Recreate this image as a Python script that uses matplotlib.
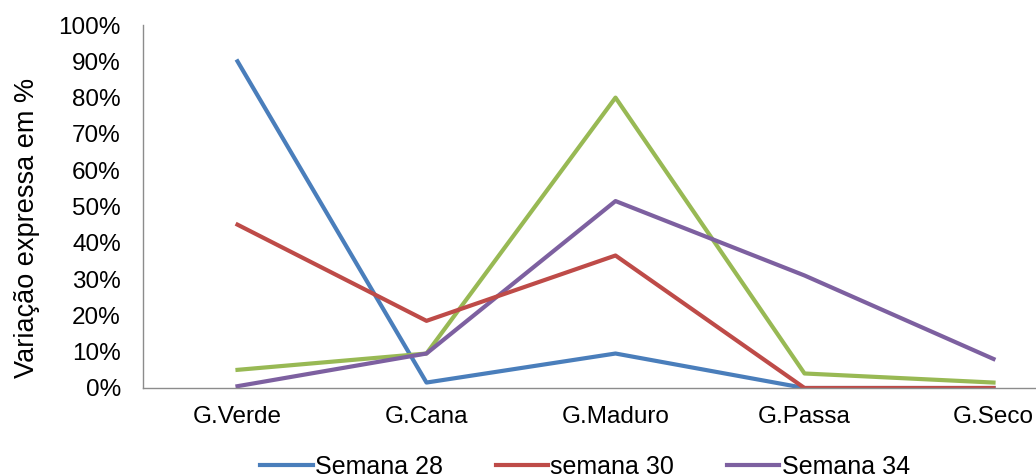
import matplotlib
matplotlib.use("Agg")
import matplotlib.pyplot as plt
from matplotlib.ticker import PercentFormatter

plt.rcParams['font.family'] = ['Liberation Sans', 'DejaVu Sans']

categorias = ['G.Verde', 'G.Cana', 'G.Maduro', 'G.Passa', 'G.Seco']
semana_28 = [90, 1.5, 9.5, 0, 0]
semana_30 = [45, 18.5, 36.5, 0, 0]
semana_32 = [5, 9.5, 80, 4, 1.5]
semana_34 = [0.5, 9.5, 51.5, 31, 8]

fig = plt.figure(figsize=(10.36, 4.75), dpi=100)
# plot area runs past the right edge of the figure
ax = fig.add_axes([143 / 1036, 1 - 388 / 475, 945 / 1036, 363 / 475])

x = range(len(categorias))
l28, = ax.plot(x, semana_28, color='#4A7EBB', lw=3, label='Semana 28')
l32, = ax.plot(x, semana_32, color='#98B954', lw=3, label='Semana 32')
l34, = ax.plot(x, semana_34, color='#7D60A0', lw=3, label='Semana 34')
l30, = ax.plot(x, semana_30, color='#BE4B48', lw=3, label='semana 30')

ax.set_xlim(-0.5, 4.5)
ax.set_ylim(0, 100)
ax.set_yticks(range(0, 101, 10))
ax.yaxis.set_major_formatter(PercentFormatter(decimals=0))
ax.set_xticks(list(x))
ax.set_xticklabels(categorias)
ax.tick_params(axis='y', length=0, pad=16, labelsize=17.5)
ax.tick_params(axis='x', length=0, pad=13, labelsize=17.5)

for s in ['top', 'right']:
    ax.spines[s].set_visible(False)
for s in ['left', 'bottom']:
    ax.spines[s].set_color('#8c8c8c')
    ax.spines[s].set_linewidth(1)

fig.text(27 / 1036, 1 - 228 / 475, 'Variação expressa em %', rotation=90,
         ha='center', va='center', fontsize=19.5)

fig.legend([l28, l30, l34], ['Semana 28', 'semana 30', 'Semana 34'],
           loc='center', bbox_to_anchor=(585 / 1036, 1 - 467 / 475),
           ncol=3, frameon=False, fontsize=18, handlelength=2.1,
           handletextpad=0.1, columnspacing=2.1)

fig.savefig('out.png', dpi=100)
